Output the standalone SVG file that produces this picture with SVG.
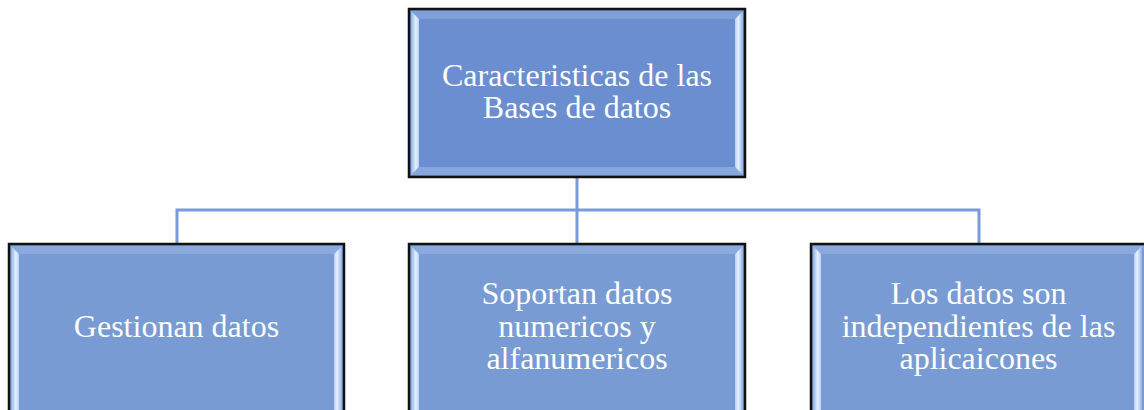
<svg xmlns="http://www.w3.org/2000/svg" width="1144" height="410" viewBox="0 0 1144 410">
<defs>
<style>
.frame{stroke:#111;stroke-width:2.5}
.top{fill:#6a8ecf}
.bot{fill:#789bd3}
.lbl{font-family:"Liberation Serif","Times New Roman",serif;font-size:32px;fill:#fff;text-anchor:middle}
.conn{fill:none;stroke:#7b9ad9;stroke-width:3}
</style>
<linearGradient id="gl" x1="0" y1="0" x2="1" y2="0">
<stop offset="0" stop-color="#8fb0e4"/>
<stop offset="0.6" stop-color="#e6f1ff"/>
<stop offset="1" stop-color="#b9cff2"/>
</linearGradient>
<linearGradient id="gr" x1="0" y1="0" x2="1" y2="0">
<stop offset="0" stop-color="#b9cff2"/>
<stop offset="0.4" stop-color="#e6f1ff"/>
<stop offset="1" stop-color="#8fb0e4"/>
</linearGradient>
</defs>
<g id="connectors">
<path class="conn" d="M577 177V210M177 244V210H979V244M577 210V244"/>
</g>
<g id="node-top">
<rect class="top frame" x="409" y="9" width="336" height="168"/>
<polygon points="411,11 743,11 735,19 419,19" fill="#7f9fd9"/>
<polygon points="411,175 743,175 735,167 419,167" fill="#88a7dc"/>
<polygon points="411,11 419,19 419,167 411,175" fill="url(#gl)"/>
<polygon points="743,11 735,19 735,167 743,175" fill="url(#gr)"/>
<text class="lbl" x="577" y="86">Caracteristicas de las</text>
<text class="lbl" x="577" y="118">Bases de datos</text>
</g>
<g id="node-left">
<rect class="bot frame" x="9" y="244" width="335" height="170"/>
<polygon points="11,246 342,246 334,254 19,254" fill="#8aa9dd"/>
<polygon points="11,246 19,254 19,412 11,412" fill="url(#gl)"/>
<polygon points="342,246 334,254 334,412 342,412" fill="url(#gr)"/>
<text class="lbl" x="176.5" y="337">Gestionan datos</text>
</g>
<g id="node-middle">
<rect class="bot frame" x="409" y="244" width="336" height="170"/>
<polygon points="411,246 743,246 735,254 419,254" fill="#8aa9dd"/>
<polygon points="411,246 419,254 419,412 411,412" fill="url(#gl)"/>
<polygon points="743,246 735,254 735,412 743,412" fill="url(#gr)"/>
<text class="lbl" x="577" y="304">Soportan datos</text>
<text class="lbl" x="577" y="337">numericos y</text>
<text class="lbl" x="577" y="369">alfanumericos</text>
</g>
<g id="node-right">
<rect class="bot frame" x="811" y="244" width="336" height="170"/>
<polygon points="813,246 1145,246 1137,254 821,254" fill="#8aa9dd"/>
<polygon points="813,246 821,254 821,412 813,412" fill="url(#gl)"/>
<polygon points="1142,246 1134,254 1134,412 1142,412" fill="url(#gr)"/>
<text class="lbl" x="978.5" y="304">Los datos son</text>
<text class="lbl" x="978.5" y="337">independientes de las</text>
<text class="lbl" x="978.5" y="369">aplicaicones</text>
</g>
</svg>
